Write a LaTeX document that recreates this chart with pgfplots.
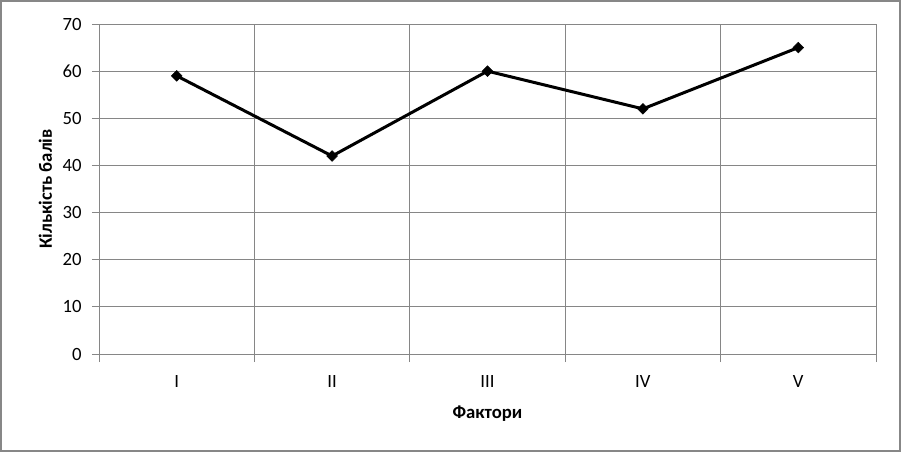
\documentclass[border=0pt]{standalone}
\usepackage{pgfplots}
\pgfplotsset{compat=1.18}
\usepackage{fontspec}
\setmainfont{Carlito}
\definecolor{gridgray}{HTML}{868686}
\definecolor{framegray}{HTML}{878787}
\begin{document}
\fontsize{18.7bp}{22bp}\selectfont
\begin{tikzpicture}[x=1bp,y=1bp]
\useasboundingbox (-99bp,-98bp) rectangle (802bp,354bp);
\draw[framegray, line width=2.5bp] (-97.75bp,-96.75bp) rectangle (800.75bp,352.75bp);
\begin{axis}[
  at={(0,0)}, anchor=south west,
  scale only axis,
  width=777bp, height=330bp,
  xmin=-0.5, xmax=4.5,
  ymin=0, ymax=70,
  ytick={0,10,...,70},
  xtick={0,1,2,3,4},
  xticklabels={I,II,III,IV,V},
  minor xtick={-0.5,0.5,1.5,2.5,3.5,4.5},
  major x tick style={draw=none},
  minor x tick style={gridgray, line width=0.75bp},
  y tick style={gridgray, line width=0.75bp},
  xminorgrids=true, ymajorgrids=true,
  grid style={gridgray, line width=0.75bp},
  minor grid style={gridgray, line width=0.75bp},
  axis line style={gridgray, line width=0.75bp},
  tick align=outside,
  major tick length=7bp, minor tick length=8bp,
  xtick pos=bottom, ytick pos=left,
  tick label style={font=\fontsize{18.7bp}{22bp}\selectfont, text=black},
  /pgf/number format/assume math mode=true,
  xticklabel style={yshift=-8bp},
  yticklabel style={xshift=-4bp},
  xlabel={\textbf{Фактори}},
  ylabel={\textbf{Кількість балів}},
  label style={font=\fontsize{18.7bp}{22bp}\selectfont},
  xlabel style={yshift=-6bp},
  ylabel style={yshift=-2bp},
]
\addplot[black, line width=3bp, mark=square*, mark size=3.8bp, mark options={solid, rotate=45, line width=0.5bp}]
  coordinates {(0,59) (1,42) (2,60) (3,52) (4,65)};
\end{axis}
\end{tikzpicture}
\end{document}
